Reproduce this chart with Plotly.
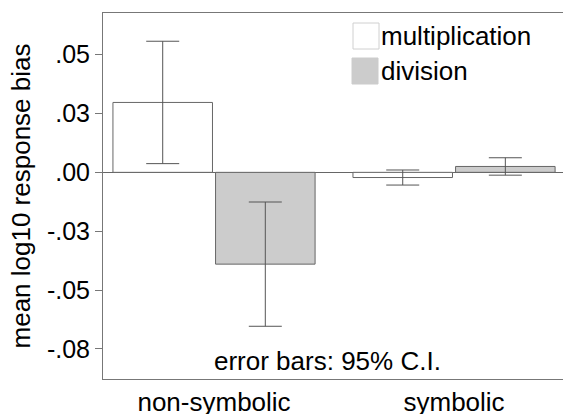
import plotly.graph_objects as go

categories = ["non-symbolic", "symbolic"]
mult_vals = [0.0297, -0.0022]
mult_err = [0.0260, 0.0032]
div_vals = [-0.0390, 0.0025]
div_err = [0.0264, 0.0037]
tick_vals = [-0.075, -0.05, -0.025, 0.0, 0.025, 0.05]
tick_text = ["-.08", "-.05", "-.03", ".00", ".03", ".05"]
series_names = ["multiplication", "division"]

FONT = "Liberation Sans, Arial, sans-serif"
W, H = 563, 414
L, R, T, B = 103, 0, 13, 35
EDGE = "#666666"

fig = go.Figure()
fig.add_bar(x=categories, y=mult_vals, name=series_names[0],
            marker=dict(color="white", line=dict(color=EDGE, width=1)),
            error_y=dict(type="data", array=mult_err, color="#555555", thickness=1, width=16.5))
fig.add_bar(x=categories, y=div_vals, name=series_names[1],
            marker=dict(color="#cccccc", line=dict(color=EDGE, width=1)),
            error_y=dict(type="data", array=div_err, color="#555555", thickness=1, width=16.5))

pw, ph = W - L - R, H - T - B
def px_x(x): return (x - L) / pw
def px_y(y): return (H - B - y) / ph

shapes = [
    dict(type="rect", xref="paper", yref="paper", x0=px_x(353), x1=px_x(379), y0=px_y(49), y1=px_y(23),
         fillcolor="white", line=dict(color="#d0d0d0", width=1)),
    dict(type="rect", xref="paper", yref="paper", x0=px_x(352), x1=px_x(378), y0=px_y(84), y1=px_y(58),
         fillcolor="#cccccc", line=dict(color="#cccccc", width=1)),
]
annotations = [
    dict(text=series_names[0], xref="paper", yref="paper", x=px_x(379), y=px_y(36), xanchor="left", yanchor="middle",
         showarrow=False, font=dict(size=26, color="black", family=FONT)),
    dict(text=series_names[1], xref="paper", yref="paper", x=px_x(379), y=px_y(71), xanchor="left", yanchor="middle",
         showarrow=False, font=dict(size=26, color="black", family=FONT)),
    dict(text="error bars: 95% C.I.", xref="paper", yref="paper", x=px_x(327), y=px_y(361), xanchor="center", yanchor="middle",
         showarrow=False, font=dict(size=26, color="black", family=FONT)),
]

fig.update_layout(
    width=W, height=H, margin=dict(l=L, r=R, t=T, b=B, autoexpand=False),
    paper_bgcolor="white", plot_bgcolor="white",
    barmode="group", bargap=0.145, bargroupgap=0.03,
    showlegend=False,
    font=dict(family=FONT, size=26, color="black"),
    shapes=shapes, annotations=annotations,
)
fig.update_xaxes(range=[-0.4625, 1.454], showline=True, linecolor="#777777", linewidth=1, mirror=True,
                 ticks="", showgrid=False, tickfont=dict(size=26), automargin=False)
fig.update_yaxes(range=[-0.0878, 0.0677], tickvals=tick_vals, ticktext=tick_text,
                 showline=True, linecolor="#777777", linewidth=1, ticks="outside", ticklen=7,
                 tickcolor="#777777", showgrid=False, zeroline=True, zerolinecolor="#666666", zerolinewidth=1,
                 tickfont=dict(size=25), automargin=False,
                 title=dict(text="mean log10 response bias", font=dict(size=26), standoff=8))

fig.write_html("out.html", config={"displayModeBar": False},
               post_script="document.body.style.margin='0';document.body.style.overflow='hidden';")
